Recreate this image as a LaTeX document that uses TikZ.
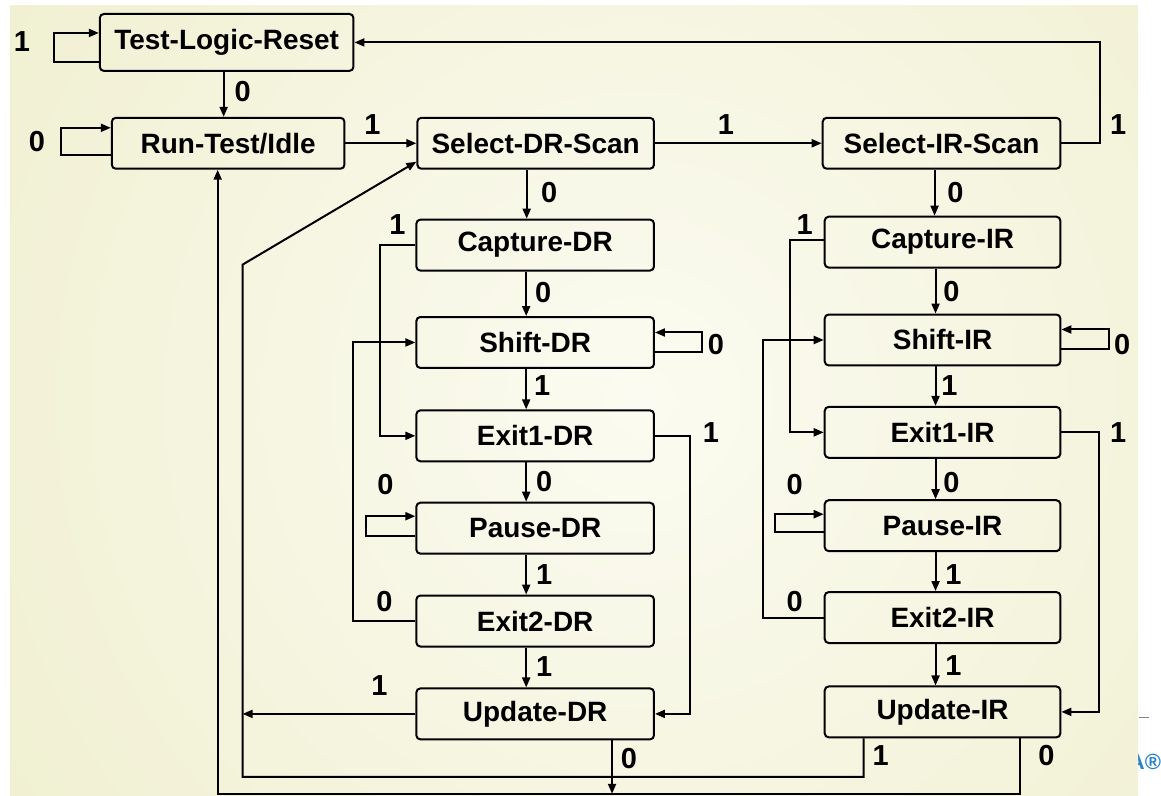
\documentclass[tikz,border=0pt]{standalone}
\usepackage{fontspec}
\setmainfont{Liberation Sans}
\usetikzlibrary{arrows.meta}

\definecolor{bgout}{RGB}{236,235,196}
\definecolor{bgin}{RGB}{251,251,241}
\definecolor{logoblue}{RGB}{40,130,200}

\begin{document}
\begin{tikzpicture}[x=1pt,y=1pt,yscale=-1,
  state/.style={draw, line width=2pt, rounded corners=4pt, minimum width=237pt, minimum height=51pt, inner sep=0pt, font=\fontsize{28}{28}\selectfont\bfseries},
  bit/.style={inner sep=0pt, font=\fontsize{29}{29}\selectfont\bfseries},
  arr/.style={line width=2pt, -{Triangle[length=10pt,width=8pt]}}]

%Background
\fill[white] (0,0) rectangle (1161,797);
\node[anchor=east, inner sep=0pt, text=logoblue, font=\fontsize{22}{22}\selectfont\bfseries] (logo) at (1163,763) {A®};
\begin{scope}
\clip (10,6) rectangle (1140,797);
\shade[inner color=bgin, outer color=bgout] (640,400) circle (1100);
\end{scope}
\draw[gray, line width=1pt] (1141,719) -- (1151,719);
\useasboundingbox (0,0) rectangle (1161,797);

%Shape: Rectangle [top row]
\node[state, minimum width=254pt, minimum height=57pt] (tlr) at (227,42.5) {Test-Logic-Reset};
\node[state, minimum width=233pt] (rti) at (228.5,143.5) {Run-Test/Idle};
\node[state] (seldr) at (536.5,143.5) {Select-DR-Scan};
\node[state, minimum width=238pt] (selir) at (943,143.5) {Select-IR-Scan};

%Shape: Rectangle [DR column]
\node[state, minimum width=238pt] (capdr) at (536,245.5) {Capture-DR};
\node[state, minimum width=238pt] (shdr) at (536,343) {Shift-DR};
\node[state, minimum width=238pt] (ex1dr) at (536,436.5) {Exit1-DR};
\node[state, minimum width=238pt] (padr) at (536,529) {Pause-DR};
\node[state, minimum width=238pt] (ex2dr) at (536,622) {Exit2-DR};
\node[state, minimum width=238pt] (updr) at (536,715) {Update-DR};

%Shape: Rectangle [IR column]
\node[state, minimum width=236pt] (capir) at (944,242.5) {Capture-IR};
\node[state, minimum width=236pt] (shir) at (944,340.5) {Shift-IR};
\node[state, minimum width=236pt] (ex1ir) at (944,433) {Exit1-IR};
\node[state, minimum width=236pt] (pair) at (944,526.5) {Pause-IR};
\node[state, minimum width=236pt] (ex2ir) at (944,618.5) {Exit2-IR};
\node[state, minimum width=236pt] (upir) at (944,713) {Update-IR};

%Coordinates for the long return lines
\coordinate (trc) at (1102,42.5);
\coordinate (dl) at (243,778);
\coordinate (dk) at (243,265);
\coordinate (bl) at (218,795);

%Straight Lines [top row]
\draw[arr] ([yshift=19.5pt]tlr.west) -- ++(-45,0) -- ++(0,-29) -- ([yshift=-9.5pt]tlr.west);
\draw[arr] ([xshift=-3pt]tlr.south) -- ([xshift=-3pt]tlr.south |- rti.north);
\draw[arr] ([yshift=11.5pt]rti.west) -- ++(-50,0) -- ++(0,-27) -- ([yshift=-15.5pt]rti.west);
\draw[arr] (rti.east) -- (seldr.west);
\draw[arr] (seldr.east) -- (selir.west);
\draw[arr] (selir.east) -| (trc) -- (tlr.east);

%Straight Lines [DR column]
\draw[arr] ([xshift=-9pt]seldr.south) -- ([xshift=-9pt]seldr.south |- capdr.north);
\draw[arr] ([xshift=-9pt]capdr.south) -- ([xshift=-9pt]shdr.north);
\draw[arr] ([xshift=-9pt]shdr.south) -- ([xshift=-9pt]ex1dr.north);
\draw[arr] ([xshift=-9pt]ex1dr.south) -- ([xshift=-9pt]padr.north);
\draw[arr] ([xshift=-9pt]padr.south) -- ([xshift=-9pt]ex2dr.north);
\draw[arr] ([xshift=-9pt]ex2dr.south) -- ([xshift=-9pt]updr.north);
\draw[arr] (capdr.west) -- ++(-35,0) |- (ex1dr.west);
\draw[arr] ([yshift=10pt]shdr.east) -- ++(47,0) -- ++(0,-20) -- ([yshift=-10pt]shdr.east);
\draw[arr] (ex1dr.east) -- ++(35,0) |- (updr.east);
\draw[arr] ([yshift=8pt]padr.west) -- ++(-49,0) -- ++(0,-20) -- ([yshift=-12pt]padr.west);
\draw[arr] (ex2dr.west) -- ++(-62,0) |- (shdr.west);
\draw[arr] (updr.west) -- (dk |- updr.west);
\draw[arr] ([xshift=77pt]updr.south) -- ([xshift=77pt]updr.south |- bl);

%Straight Lines [IR column]
\draw[arr] ([xshift=-7pt]selir.south) -- ([xshift=-7pt]selir.south |- capir.north);
\draw[arr] ([xshift=-7pt]capir.south) -- ([xshift=-7pt]shir.north);
\draw[arr] ([xshift=-7pt]shir.south) -- ([xshift=-7pt]ex1ir.north);
\draw[arr] ([xshift=-7pt]ex1ir.south) -- ([xshift=-7pt]pair.north);
\draw[arr] ([xshift=-7pt]pair.south) -- ([xshift=-7pt]ex2ir.north);
\draw[arr] ([xshift=-7pt]ex2ir.south) -- ([xshift=-7pt]upir.north);
\draw[arr] ([yshift=-2.5pt]capir.west) -- ++(-34,0) |- (ex1ir.west);
\draw[arr] ([yshift=9.5pt]shir.east) -- ++(48,0) -- ++(0,-20) -- ([yshift=-10.5pt]shir.east);
\draw[arr] (ex1ir.east) -- ++(38,0) |- (upir.east);
\draw[arr] ([yshift=6.5pt]pair.west) -- ++(-49,0) -- ++(0,-18) -- ([yshift=-11.5pt]pair.west);
\draw[arr] (ex2ir.west) -- ++(-61,0) |- (shir.west);

%Straight Lines [return paths]
\draw[arr] ([xshift=-79pt]upir.south) |- (dl) -- (dk) -- ([yshift=18.5pt]seldr.west);
\draw[arr] ([xshift=78pt]upir.south) |- (bl) -- ([xshift=-10.5pt]rti.south);

% Text Node [top row]
\node[bit] (b1) at (22,42) {1};
\node[bit] (b2) at (243,92) {0};
\node[bit] (b3) at (37,142) {0};
\node[bit] (b4) at (373,125) {1};
\node[bit] (b5) at (727,125) {1};
\node[bit] (b6) at (1120,125) {1};

% Text Node [DR column]
\node[bit] (b7) at (550,193) {0};
\node[bit] (b8) at (544,293) {0};
\node[bit] (b9) at (543,386) {1};
\node[bit] (b10) at (545,482) {0};
\node[bit] (b11) at (545,575) {1};
\node[bit] (b12) at (545,668) {1};
\node[bit] (b13) at (398,225) {1};
\node[bit] (b14) at (717,345) {0};
\node[bit] (b15) at (712,433) {1};
\node[bit] (b16) at (386,485) {0};
\node[bit] (b17) at (385,602) {0};
\node[bit] (b18) at (380,687) {1};
\node[bit] (b19) at (630,760) {0};

% Text Node [IR column]
\node[bit] (b20) at (957,193) {0};
\node[bit] (b21) at (953,292) {0};
\node[bit] (b22) at (951,386) {1};
\node[bit] (b23) at (953,483) {0};
\node[bit] (b24) at (955,575) {1};
\node[bit] (b25) at (955,667) {1};
\node[bit] (b26) at (806,225) {1};
\node[bit] (b27) at (1124,345) {0};
\node[bit] (b28) at (1120,433) {1};
\node[bit] (b29) at (796,485) {0};
\node[bit] (b30) at (796,602) {0};
\node[bit] (b31) at (882,757) {1};
\node[bit] (b32) at (1048,757) {0};

\end{tikzpicture}
\end{document}
